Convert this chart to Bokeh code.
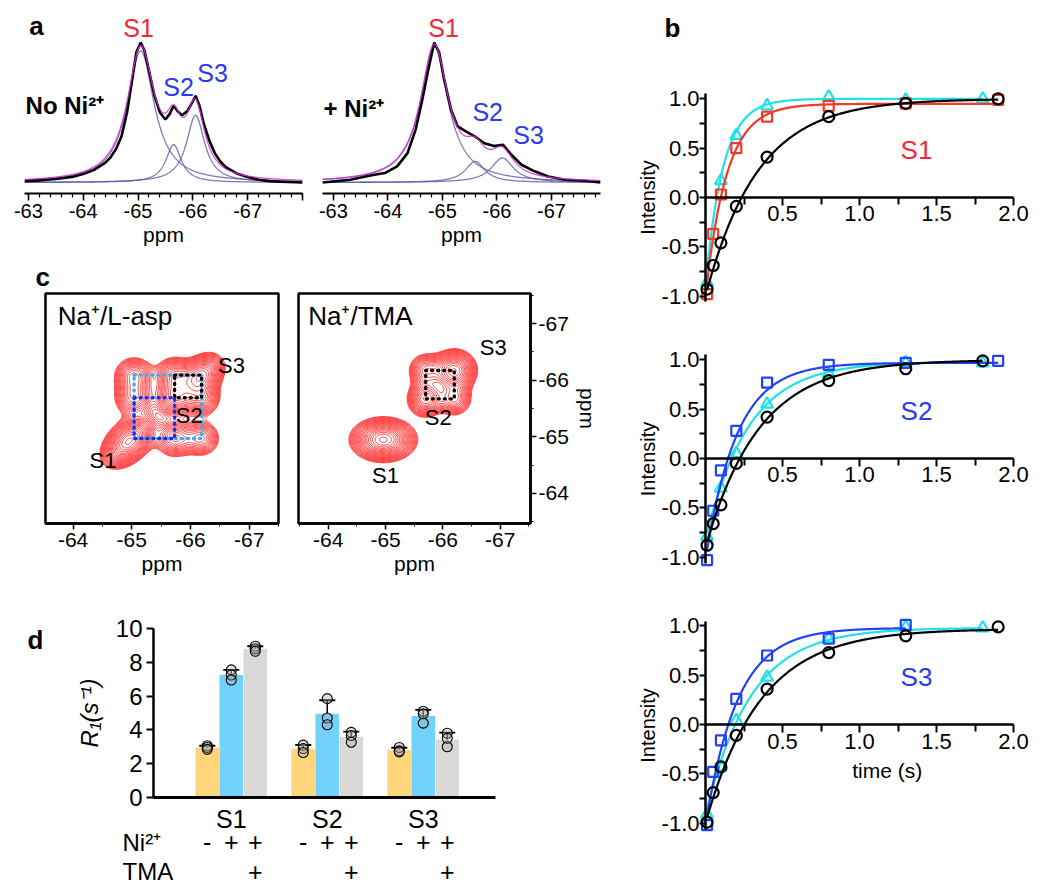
import numpy as np
from bokeh.plotting import figure
from bokeh.layouts import row, column
from bokeh.models import Range1d, FixedTicker, Label, LabelSet, ColumnDataSource, Whisker, TeeHead, Title
from bokeh.core.properties import value
from bokeh.embed import file_html
from bokeh.resources import INLINE

FONT = "Liberation Sans"

# ======================= DATA =======================
# ---- panel a : 1D spectra ----
a_tick_values = [-63, -64, -65, -66, -67, -68]
a_tick_labels = ["-63", "-64", "-65", "-66", "-67", ""]

a1_ppm = [-62.93, -63.2, -63.5, -63.8, -64.0, -64.2, -64.4, -64.5, -64.6, -64.7, -64.8, -64.9,
          -64.97, -65.05, -65.12, -65.2, -65.3, -65.4, -65.5, -65.58, -65.65, -65.72, -65.8,
          -65.9, -66.0, -66.05, -66.12, -66.2, -66.3, -66.4, -66.5, -66.6, -66.8, -67.0, -67.2,
          -67.4, -67.6, -68.0]
a1_int = [0.01, 0.015, 0.025, 0.04, 0.06, 0.09, 0.14, 0.18, 0.24, 0.33, 0.50, 0.75, 0.93, 1.0,
          0.94, 0.80, 0.62, 0.50, 0.45, 0.49, 0.55, 0.51, 0.48, 0.51, 0.58, 0.62, 0.55, 0.42,
          0.30, 0.21, 0.15, 0.11, 0.065, 0.04, 0.02, 0.01, 0.005, 0.0]
a1_fit_center = [-65.05, -65.65, -66.05]
a1_fit_height = [0.94, 0.27, 0.48]
a1_fit_hwhm = [0.30, 0.17, 0.20]

a2_ppm = [-62.8, -62.94, -63.31, -63.68, -63.96, -64.17, -64.36, -64.51, -64.63, -64.73, -64.85,
          -64.94, -65.03, -65.16, -65.28, -65.43, -65.59, -65.77, -65.95, -66.11, -66.26, -66.45,
          -66.69, -66.94, -67.25, -67.61, -67.9]
a2_int = [0.0, 0.005, 0.02, 0.05, 0.07, 0.115, 0.21, 0.38, 0.59, 0.785, 1.0, 0.93, 0.74, 0.52,
          0.40, 0.366, 0.33, 0.28, 0.26, 0.27, 0.20, 0.127, 0.08, 0.043, 0.02, 0.012, 0.0]
a2_fit_center = [-64.85, -65.6, -66.1]
a2_fit_height = [0.97, 0.15, 0.175]
a2_fit_hwhm = [0.31, 0.22, 0.25]

# ---- panel c : 2D exchange spectra ----
c_tick_values = [-64, -65, -66, -67]
c_tick_labels = ["-64", "-65", "-66", "-67"]
# site positions (F2, F1) used for the dotted exchange squares
c1_site_x = [-65.04, -65.73, -66.19]
c1_site_y = [-64.97, -65.69, -66.09]
c2_site_x = [-64.96, -65.70, -66.20]
c2_site_y = [-64.95, -65.67, -66.17]
# peak lists: F2, F1, amplitude, width F2, width F1, diagonal correlation
c1_pk_x = [-64.95, -65.73, -66.19, -65.04, -65.73, -65.04, -66.19, -65.73, -66.19]
c1_pk_y = [-64.92, -65.69, -66.09, -65.69, -64.97, -66.09, -64.97, -66.09, -65.69]
c1_pk_amp = [1.0, 0.5, 0.75, 0.42, 0.40, 0.42, 0.36, 0.45, 0.42]
c1_pk_sx = [0.23, 0.19, 0.20, 0.19, 0.19, 0.19, 0.18, 0.18, 0.18]
c1_pk_sy = [0.23, 0.19, 0.20, 0.19, 0.19, 0.18, 0.18, 0.18, 0.18]
c1_pk_rho = [0.45, 0.0, 0.3, 0.0, 0.0, 0.0, 0.0, 0.0, 0.0]

c2_pk_x = [-64.96, -65.70, -66.20, -65.70, -66.20]
c2_pk_y = [-64.95, -65.67, -66.17, -66.17, -65.67]
c2_pk_amp = [1.0, 0.6, 0.8, 0.40, 0.40]
c2_pk_sx = [0.28, 0.17, 0.20, 0.17, 0.17]
c2_pk_sy = [0.19, 0.17, 0.19, 0.17, 0.17]
c2_pk_rho = [0.0, 0.0, 0.0, 0.0, 0.0]

# ---- panel d : R1 replicates  (order: S1, S2, S3) ----
d_groups = ["S1", "S2", "S3"]
d_r1_noni = [[3.06, 2.96, 2.85], [3.10, 2.90, 2.66], [2.96, 2.76, 2.70]]
d_r1_ni = [[7.55, 7.25, 6.95], [5.85, 4.70, 4.30], [5.10, 4.95, 4.40]]
d_r1_tma = [[8.95, 8.80, 8.65], [3.85, 3.67, 3.27], [3.80, 3.50, 3.00]]
d_ni_signs = ["-", "+", "+"]
d_tma_signs = ["", "", "+"]
d_y_ticks = [0, 2, 4, 6, 8, 10]
d_y_labels = ["0", "2", "4", "6", "8", "10"]

# ---- panel b : inversion recovery (order: no Ni, Ni, Ni+TMA) ----
b_y_ticks = [-1.0, -0.5, 0.0, 0.5, 1.0]
b_y_labels = ["-1.0", "-0.5", "0.0", "0.5", "1.0"]
b_x_ticks = [0.5, 1.0, 1.5, 2.0]
b_x_labels = ["0.5", "1.0", "1.5", "2.0"]

s1_black_t = [0.01, 0.05, 0.1, 0.2, 0.4, 0.8, 1.3, 1.9]
s1_black_y = [-0.93, -0.69, -0.46, -0.09, 0.41, 0.82, 0.955, 1.0]
s1_red_t = [0.01, 0.05, 0.1, 0.2, 0.4, 0.8, 1.3, 1.9]
s1_red_y = [-0.98, -0.37, 0.03, 0.50, 0.82, 0.93, 0.955, 0.99]
s1_cyan_t = [0.01, 0.1, 0.2, 0.4, 0.8, 1.3, 1.8]
s1_cyan_y = [-0.86, 0.17, 0.63, 0.93, 1.02, 0.99, 1.0]
s1_fit_A = [1.0, 0.95, 1.0]
s1_fit_B = [2.0, 1.95, 1.9]

s2_black_t = [0.01, 0.05, 0.1, 0.2, 0.4, 0.8, 1.3, 1.8]
s2_black_y = [-0.88, -0.66, -0.47, -0.05, 0.42, 0.79, 0.91, 0.99]
s2_blue_t = [0.01, 0.05, 0.1, 0.2, 0.4, 0.8, 1.3, 1.9]
s2_blue_y = [-1.03, -0.53, -0.12, 0.28, 0.77, 0.95, 0.97, 0.99]
s2_cyan_t = [0.01, 0.1, 0.2, 0.4, 0.8, 1.3, 1.8]
s2_cyan_y = [-0.79, -0.30, 0.05, 0.55, 0.86, 0.97, 0.97]
s2_fit_A = [1.0, 0.97, 0.98]
s2_fit_B = [1.9, 2.0, 1.8]

s3_black_t = [0.01, 0.05, 0.1, 0.2, 0.4, 0.8, 1.3, 1.9]
s3_black_y = [-0.99, -0.69, -0.43, -0.11, 0.36, 0.73, 0.90, 0.99]
s3_blue_t = [0.01, 0.05, 0.1, 0.2, 0.4, 0.8, 1.3]
s3_blue_y = [-1.02, -0.48, -0.16, 0.26, 0.70, 0.87, 1.01]
s3_cyan_t = [0.01, 0.1, 0.2, 0.4, 0.8, 1.3, 1.8]
s3_cyan_y = [-0.91, -0.43, 0.04, 0.48, 0.87, 0.99, 0.98]
s3_fit_A = [0.97, 0.98, 0.98]
s3_fit_B = [1.97, 2.0, 1.9]

# ======================= COLOURS =======================
RED = "#F23A2A"
BLUE = "#2442F5"
CYAN = "#1DE3E8"
LAB_RED = "#EE2A3A"
LAB_BLUE = "#2A3AEE"
BAR_COLORS = ["#FFD47A", "#73D2FB", "#D9D9D9"]


def base_fig(w, h, l, r, t, b, xr, yr, **kw):
    p = figure(width=w, height=h, min_border_left=l, min_border_right=r, min_border_top=t,
               min_border_bottom=b, x_range=xr, y_range=yr, output_backend="svg",
               toolbar_location=None, **kw)
    p.grid.visible = False
    p.outline_line_color = None
    p.background_fill_color = "white"
    p.border_fill_color = "white"
    return p


def style_axis(ax, size, label_size):
    ax.major_label_text_font = FONT
    ax.major_label_text_font_size = size
    ax.major_label_text_color = "black"
    ax.axis_label_text_font = FONT
    ax.axis_label_text_font_size = label_size
    ax.axis_label_text_font_style = "normal"
    ax.axis_label_text_color = "black"
    ax.axis_line_color = "black"
    ax.major_tick_line_color = "black"
    ax.minor_tick_line_color = "black"
    ax.major_tick_in = 0
    ax.minor_tick_in = 0


def add_text(p, x, y, text, size, color="black", bold=False, align="center"):
    p.add_layout(Label(x=x, y=y, text=text, text_font=FONT, text_font_size=size,
                       text_color=color, text_font_style="bold" if bold else "normal",
                       text_align=align, text_baseline="middle"))


# ======================= PANEL a =======================
a_minor = [round(-63 - 0.2 * i, 1) for i in range(26)]


def spectrum(w, l, r, xr, ppm, inten, cen, hei, hw):
    p = base_fig(w, 255, l, r, 14, 62, Range1d(*xr), Range1d(-0.0786, 1.2))
    p.yaxis.visible = False
    xs = np.linspace(xr[0], xr[1], 800)
    total = np.zeros_like(xs)
    for c, h, g in zip(cen, hei, hw):
        comp = h / (1.0 + ((xs - c) / g) ** 2)
        total += comp
        p.line(xs, comp, line_color="#5a5aa8", line_width=1.3, line_alpha=0.8)
    p.line(ppm, inten, line_color="black", line_width=2.6)
    p.line(xs, total, line_color="#d22cd2", line_width=1.3, line_alpha=0.85)
    ax = p.xaxis[0]
    ax.ticker = FixedTicker(ticks=a_tick_values, minor_ticks=a_minor)
    ax.major_label_overrides = dict(zip(a_tick_values, a_tick_labels))
    ax.axis_label = "ppm"
    style_axis(ax, "20px", "21px")
    ax.axis_line_width = 2
    ax.major_tick_out = 7
    ax.minor_tick_out = 4
    ax.major_tick_line_width = 1.5
    ax.minor_tick_line_width = 1.2
    ax.major_label_standoff = 3
    ax.axis_label_standoff = 2
    return p


pa1 = spectrum(312, 24, 10, (-62.93, -68.0), a1_ppm, a1_int, a1_fit_center, a1_fit_height, a1_fit_hwhm)
add_text(pa1, -63.15, 1.12, "a", "26px", bold=True)
add_text(pa1, -65.01, 1.107, "S1", "25px", LAB_RED)
add_text(pa1, -65.74, 0.68, "S2", "25px", LAB_BLUE)
add_text(pa1, -66.36, 0.78, "S3", "25px", LAB_BLUE)
add_text(pa1, -62.95, 0.55, "No Ni²⁺", "24px", bold=True, align="left")

pa2 = spectrum(318, 10, 30, (-62.8, -67.9), a2_ppm, a2_int, a2_fit_center, a2_fit_height, a2_fit_hwhm)
add_text(pa2, -65.02, 1.107, "S1", "25px", LAB_RED)
add_text(pa2, -65.83, 0.50, "S2", "25px", LAB_BLUE)
add_text(pa2, -66.58, 0.34, "S3", "25px", LAB_BLUE)
add_text(pa2, -62.82, 0.53, "+ Ni²⁺", "24px", bold=True, align="left")

# ======================= PANEL c =======================
c_minor = [-63.5 - 0.5 * i for i in range(9)]


def exchange(w, l, r, xr, pk, right_axis):
    kw = {"y_axis_location": "right"} if right_axis else {}
    p = base_fig(w, 338, l, r, 38, 70, Range1d(*xr), Range1d(-63.47, -67.53), **kw)
    p.outline_line_color = "black"
    p.outline_line_width = 2.5
    gx = np.linspace(-63.2, -67.8, 300)
    gy = np.linspace(-63.2, -67.8, 300)
    X, Y = np.meshgrid(gx, gy)
    Z = np.zeros_like(X)
    for x0, y0, a, sx, sy, rho in zip(*pk):
        dx = (X - x0) / sx
        dy = (Y - y0) / sy
        Z += a * np.exp(-(dx ** 2 + dy ** 2 - 2 * rho * dx * dy) / (2 * (1 - rho ** 2)))
    levels = np.geomspace(0.1, 0.97, 24)
    p.contour(gx, gy, Z, levels, line_color="#FF3B3B", line_width=1.0)
    ax = p.xaxis[0]
    ax.ticker = FixedTicker(ticks=c_tick_values, minor_ticks=c_minor)
    ax.major_label_overrides = dict(zip(c_tick_values, c_tick_labels))
    ax.axis_label = "ppm"
    style_axis(ax, "21px", "21px")
    ax.axis_line_width = 2.5
    ax.major_tick_out = 6
    ax.minor_tick_out = 3
    ax.major_tick_line_width = 1.5
    ax.major_label_standoff = 3
    ax.axis_label_standoff = 2
    ya = p.yaxis[0]
    if right_axis:
        ya.ticker = FixedTicker(ticks=c_tick_values, minor_ticks=c_minor)
        ya.major_label_overrides = dict(zip(c_tick_values, c_tick_labels))
        ya.axis_label = "ppm"
        style_axis(ya, "21px", "21px")
        ya.axis_line_width = 2.5
        ya.major_tick_out = 6
        ya.minor_tick_out = 3
        ya.major_tick_line_width = 1.5
        ya.major_label_standoff = 2
        ya.axis_label_standoff = 4
    else:
        ya.visible = False
    return p


def dotted_square(p, sx_, sy_, i, j, color):
    p.quad(left=[sx_[i]], right=[sx_[j]], bottom=[sy_[i]], top=[sy_[j]], fill_color=None,
           line_color=color, line_width=3.4, line_dash="1 5", line_cap="round")


pc1 = exchange(288, 45, 10, (-63.53, -67.5),
               (c1_pk_x, c1_pk_y, c1_pk_amp, c1_pk_sx, c1_pk_sy, c1_pk_rho), False)
dotted_square(pc1, c1_site_x, c1_site_y, 0, 2, "#3FA9F5")
dotted_square(pc1, c1_site_x, c1_site_y, 0, 1, "#1A2CF0")
dotted_square(pc1, c1_site_x, c1_site_y, 1, 2, "black")
pc1.add_layout(Title(text="c", align="left", offset=-10, standoff=3, text_font=FONT,
                     text_font_size="26px", text_font_style="bold", text_color="black"), "above")
add_text(pc1, -63.74, -67.14, "Na⁺/L-asp", "26px", align="left")
add_text(pc1, -64.51, -64.58, "S1", "22px")
add_text(pc1, -65.98, -65.38, "S2", "22px")
add_text(pc1, -66.70, -66.26, "S3", "22px")

pc2 = exchange(342, 10, 100, (-63.48, -67.53),
               (c2_pk_x, c2_pk_y, c2_pk_amp, c2_pk_sx, c2_pk_sy, c2_pk_rho), True)
dotted_square(pc2, c2_site_x, c2_site_y, 1, 2, "black")
add_text(pc2, -63.65, -67.14, "Na⁺/TMA", "26px", align="left")
add_text(pc2, -65.0, -64.32, "S1", "22px")
add_text(pc2, -65.92, -65.34, "S2", "22px")
add_text(pc2, -66.88, -66.58, "S3", "22px")

# ======================= PANEL d =======================
# whole figure is the frame; axes are pinned with fixed_location + bounds
pdd = base_fig(630, 296, 0, 0, 0, 0, Range1d(-1.904, 4.659), Range1d(-5.444, 12.07))
offsets = [-0.25, 0.0, 0.25]
cond_data = [d_r1_noni, d_r1_ni, d_r1_tma]
cond_means = []
for k, reps in enumerate(cond_data):
    xs = [g + 0.5 + offsets[k] for g in range(len(d_groups))]
    means = [float(np.mean(r)) for r in reps]
    sds = [float(np.std(r, ddof=1)) for r in reps]
    cond_means.append(means)
    pdd.vbar(x=xs, top=means, width=0.245, bottom=0, fill_color=BAR_COLORS[k], line_color=None)
    src = ColumnDataSource(dict(x=xs, upper=[m + s for m, s in zip(means, sds)],
                                lower=[m - s for m, s in zip(means, sds)]))
    pdd.add_layout(Whisker(source=src, base="x", upper="upper", lower="lower",
                           line_color="black", line_width=1.5,
                           upper_head=TeeHead(size=16, line_color="black", line_width=1.8),
                           lower_head=TeeHead(size=16, line_color="black", line_width=1.8)))
    px = [x for x, r in zip(xs, reps) for _ in r]
    py = [v for r in reps for v in r]
    pdd.scatter(px, py, marker="circle", size=10, fill_color="#aaaaaa", fill_alpha=0.35,
                line_color="black", line_width=1.1)

ax = pdd.xaxis[0]
ax.fixed_location = 0
ax.bounds = (-0.31, 3.25)
ax.ticker = FixedTicker(ticks=[g + 0.5 for g in range(len(d_groups))])
ax.major_label_overrides = {g + 0.5: name for g, name in enumerate(d_groups)}
style_axis(ax, "25px", "24px")
ax.axis_line_width = 3
ax.major_tick_out = 0
ax.minor_tick_out = 0
ax.major_label_standoff = 8
ya = pdd.yaxis[0]
ya.fixed_location = -0.31
ya.bounds = (0, 10)
ya.ticker = FixedTicker(ticks=d_y_ticks)
ya.major_label_overrides = dict(zip(d_y_ticks, d_y_labels))
style_axis(ya, "24px", "24px")
ya.axis_label = "R₁(s⁻¹)"
ya.axis_label_text_font_style = "italic"
ya.axis_line_width = 2.5
ya.major_tick_out = 7
ya.major_tick_line_width = 2
ya.minor_tick_out = 0
ya.major_label_standoff = 4
ya.axis_label_standoff = 10

bar_x = [g + 0.5 + o for g in range(len(d_groups)) for o in offsets]
ni_src = ColumnDataSource(dict(x=bar_x, y=[-2.66] * len(bar_x), t=d_ni_signs * len(d_groups)))
tma_src = ColumnDataSource(dict(x=bar_x, y=[-4.4] * len(bar_x), t=d_tma_signs * len(d_groups)))
for s in (ni_src, tma_src):
    pdd.add_layout(LabelSet(x="x", y="y", text="t", source=s, text_font=value(FONT),
                            text_font_size=value("25px"), text_color="black",
                            text_align="center", text_baseline="middle"))
add_text(pdd, -0.633, -2.66, "Ni²⁺", "24px", align="left")
add_text(pdd, -0.633, -4.4, "TMA", "24px", align="left")
add_text(pdd, -1.54, 9.29, "d", "26px", bold=True)

# ======================= PANEL b =======================
rates = [[cond_means[k][g] for k in range(3)] for g in range(3)]


def relax(height, y_lo, y_hi, series, s_name, s_color, show_time):
    p = base_fig(412, height, 0, 0, 0, 0, Range1d(-0.487, 2.188), Range1d(y_lo, y_hi))
    xa = p.xaxis[0]
    ya = p.yaxis[0]
    xa.fixed_location = 0
    ya.fixed_location = 0
    xa.bounds = (0, 2.0)
    ya.bounds = (-1.06, 1.05)
    xa.ticker = FixedTicker(ticks=b_x_ticks, minor_ticks=[0.25, 0.75, 1.25, 1.75])
    xa.major_label_overrides = dict(zip(b_x_ticks, b_x_labels))
    ya.ticker = FixedTicker(ticks=b_y_ticks, minor_ticks=[-0.75, -0.25, 0.25, 0.75])
    ya.major_label_overrides = dict(zip(b_y_ticks, b_y_labels))
    for a in (xa, ya):
        style_axis(a, "22px", "20px")
        a.axis_line_width = 2.5
        a.major_tick_line_width = 2
        a.minor_tick_line_width = 2
    xa.major_tick_out = 8
    xa.minor_tick_out = 7
    xa.major_label_standoff = 1
    ya.major_tick_out = 6
    ya.minor_tick_out = 6
    ya.major_label_standoff = 0
    ya.axis_label = "Intensity"
    ya.axis_label_standoff = 0
    for t, y, marker, color, A, B, R, size in series:
        tt = np.linspace(t[0], t[-1], 300)
        p.line(tt, A - B * np.exp(-R * tt), line_color=color, line_width=2.2)
        p.scatter(t, y, marker=marker, size=size, line_color=color, fill_color=None, line_width=2.2)
    add_text(p, 1.37, 0.48, s_name, "26px", s_color)
    if show_time:
        add_text(p, 1.18, -0.47, "time (s)", "21px")
    return p


pb1 = relax(328, -1.329, 1.998, [
    (s1_cyan_t, s1_cyan_y, "triangle", CYAN, s1_fit_A[2], s1_fit_B[2], rates[0][2], 12),
    (s1_red_t, s1_red_y, "square", RED, s1_fit_A[1], s1_fit_B[1], rates[0][1], 10),
    (s1_black_t, s1_black_y, "circle", "black", s1_fit_A[0], s1_fit_B[0], rates[0][0], 11),
], "S1", LAB_RED, False)
add_text(pb1, -0.214, 1.714, "b", "26px", bold=True)

pb2 = relax(265, -1.369, 1.318, [
    (s2_cyan_t, s2_cyan_y, "triangle", CYAN, s2_fit_A[2], s2_fit_B[2], rates[1][2], 12),
    (s2_blue_t, s2_blue_y, "square", BLUE, s2_fit_A[1], s2_fit_B[1], rates[1][1], 10),
    (s2_black_t, s2_black_y, "circle", "black", s2_fit_A[0], s2_fit_B[0], rates[1][0], 11),
], "S2", LAB_BLUE, False)

pb3 = relax(289, -1.602, 1.329, [
    (s3_cyan_t, s3_cyan_y, "triangle", CYAN, s3_fit_A[2], s3_fit_B[2], rates[2][2], 12),
    (s3_blue_t, s3_blue_y, "square", BLUE, s3_fit_A[1], s3_fit_B[1], rates[2][1], 10),
    (s3_black_t, s3_black_y, "circle", "black", s3_fit_A[0], s3_fit_B[0], rates[2][0], 11),
], "S3", LAB_BLUE, True)

left = column(row(pa1, pa2), row(pc1, pc2), pdd)
right = column(pb1, pb2, pb3)
layout = row(left, right)

open("out.html", "w").write(file_html(layout, INLINE))
